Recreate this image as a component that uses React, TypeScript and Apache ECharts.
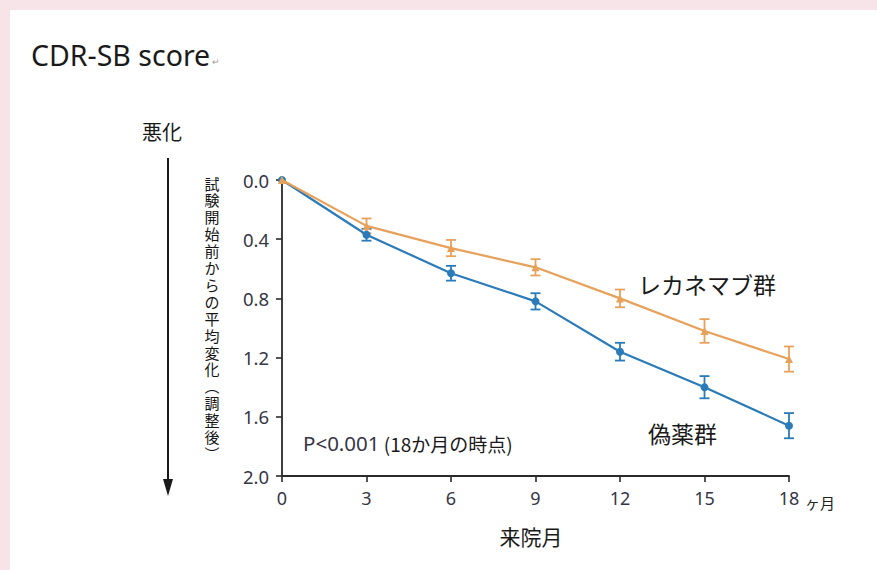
import React, { useEffect, useRef } from "react";
import * as echarts from "echarts";

const months = [0, 3, 6, 9, 12, 15, 18];
const lecanemab = [0, 0.31, 0.46, 0.59, 0.8, 1.02, 1.21];
const lecanemabErr = [0, 0.05, 0.055, 0.055, 0.06, 0.08, 0.085];
const placebo = [0, 0.37, 0.63, 0.82, 1.16, 1.4, 1.66];
const placeboErr = [0, 0.04, 0.05, 0.055, 0.06, 0.075, 0.085];

const ORANGE = "#e8a15a";
const BLUE = "#2b7bb9";
const FONT = "'Noto Sans', 'Noto Sans CJK JP', sans-serif";
const JP = "'Noto Sans CJK JP', sans-serif";
const VFONT = "'Liberation Sans', 'Noto Sans CJK JP', sans-serif";

const yName = "試験開始前からの平均変化︵調整後︶";

function errSeries(vals: number[], errs: number[], color: string) {
  return {
    type: "custom",
    silent: true,
    z: 3,
    encode: { x: 0, y: 1 },
    data: months.map((m, i) => [m, vals[i], errs[i]]).filter((d) => d[2] > 0),
    renderItem: (params: any, api: any) => {
      const x = api.value(0);
      const y = api.value(1);
      const e = api.value(2);
      const a = api.coord([x, y - e]);
      const b = api.coord([x, y + e]);
      const w = 5;
      const st = { stroke: color, lineWidth: 1.8 };
      return {
        type: "group",
        children: [
          { type: "line", shape: { x1: a[0], y1: a[1], x2: b[0], y2: b[1] }, style: st },
          { type: "line", shape: { x1: a[0] - w, y1: a[1], x2: a[0] + w, y2: a[1] }, style: st },
          { type: "line", shape: { x1: b[0] - w, y1: b[1], x2: b[0] + w, y2: b[1] }, style: st },
        ],
      };
    },
  };
}

export default function App() {
  const ref = useRef<HTMLDivElement>(null);
  useEffect(() => {
    if (!ref.current) return;
    document.body.style.margin = "0";
    const chart = echarts.init(ref.current, null, { renderer: "svg" });
    const vChars = yName.split("");
    chart.setOption({
      animation: false,
      backgroundColor: "#f6e4e8",
      grid: { left: 282, right: 88, top: 180, bottom: 94, containLabel: false },
      xAxis: {
        type: "value",
        min: 0,
        max: 18,
        interval: 3,
        splitLine: { show: false },
        axisLine: { show: true, onZero: false, lineStyle: { color: "#2a2a2a", width: 1.8 } },
        axisTick: { show: true, length: 6, lineStyle: { color: "#2a2a2a", width: 1.6 } },
        axisLabel: { color: "#363646", fontSize: 18, fontFamily: FONT, margin: 13 },
      },
      yAxis: {
        type: "value",
        inverse: true,
        min: 0,
        max: 2.0,
        interval: 0.4,
        splitLine: { show: false },
        axisLine: { show: true, onZero: false, lineStyle: { color: "#2a2a2a", width: 1.8 } },
        axisTick: { show: true, length: 6, lineStyle: { color: "#2a2a2a", width: 1.6 } },
        axisLabel: {
          color: "#363646",
          fontSize: 18.5,
          fontFamily: FONT,
          margin: 13,
          formatter: (v: number) => v.toFixed(1),
        },
      },
      graphic: [
        { type: "rect", z: -10, shape: { x: 10, y: 10, width: 877, height: 570 }, style: { fill: "#ffffff" } },
        {
          type: "text",
          x: 31,
          y: 55,
          style: { text: "CDR-SB score", font: `28.5px ${FONT}`, fill: "#1a1a1a", verticalAlign: "middle" },
        },
        {
          type: "text",
          x: 212,
          y: 61,
          style: { text: "↵", font: `9px ${FONT}`, fill: "#999", verticalAlign: "middle" },
        },
        {
          type: "text",
          x: 162,
          y: 131,
          style: { text: "悪化", font: `20px ${JP}`, fill: "#1a1a1a", align: "center", verticalAlign: "middle" },
        },
        {
          type: "line",
          shape: { x1: 168, y1: 158, x2: 168, y2: 484 },
          style: { stroke: "#1a1a1a", lineWidth: 2 },
        },
        {
          type: "polygon",
          shape: { points: [[163, 479], [173, 479], [168, 496]] },
          style: { fill: "#1a1a1a" },
        },
        ...vChars.map((c, i) => ({
          type: "text",
          x: 212,
          y: 184 + i * 16.9,
          style: {
            text: c,
            font: `15px ${VFONT}`,
            fill: "#151515",
            align: "center",
            verticalAlign: "middle",
          },
        })),
        {
          type: "text",
          x: 805,
          y: 502,
          style: { text: "ヶ月", font: `15px ${JP}`, fill: "#222", verticalAlign: "middle" },
        },
        {
          type: "text",
          x: 531,
          y: 536,
          style: { text: "来院月", font: `21px ${JP}`, fill: "#1a1a1a", align: "center", verticalAlign: "middle" },
        },
        {
          type: "text",
          x: 638,
          y: 284,
          style: { text: "レカネマブ群", font: `23px ${JP}`, fill: "#1a1a1a", verticalAlign: "middle" },
        },
        {
          type: "text",
          x: 648,
          y: 433,
          style: { text: "偽薬群", font: `23px ${JP}`, fill: "#1a1a1a", verticalAlign: "middle" },
        },
        {
          type: "text",
          x: 303,
          y: 443,
          style: {
            text: "{p|P<0.001}{q| (18か月の時点)}",
            verticalAlign: "middle",
            rich: {
              p: { font: `20.5px ${FONT}`, fill: "#363646" },
              q: { font: `19px ${JP}`, fill: "#1a1a1a" },
            },
          },
        },
      ],
      series: [
        {
          type: "line",
          name: "偽薬群",
          data: months.map((m, i) => [m, placebo[i]]),
          symbol: "circle",
          symbolSize: 8,
          showSymbol: true,
          itemStyle: { color: BLUE },
          lineStyle: { color: BLUE, width: 2.2 },
          z: 4,
        },
        {
          type: "line",
          name: "レカネマブ群",
          data: months.map((m, i) => [m, lecanemab[i]]),
          symbol: "triangle",
          symbolSize: 8,
          showSymbol: true,
          itemStyle: { color: ORANGE },
          lineStyle: { color: ORANGE, width: 2.2 },
          z: 5,
        },
        errSeries(placebo, placeboErr, BLUE),
        errSeries(lecanemab, lecanemabErr, ORANGE),
      ],
    });
    return () => chart.dispose();
  }, []);
  return <div ref={ref} style={{ position: "fixed", left: 0, top: 0, width: 877, height: 570 }} />;
}
